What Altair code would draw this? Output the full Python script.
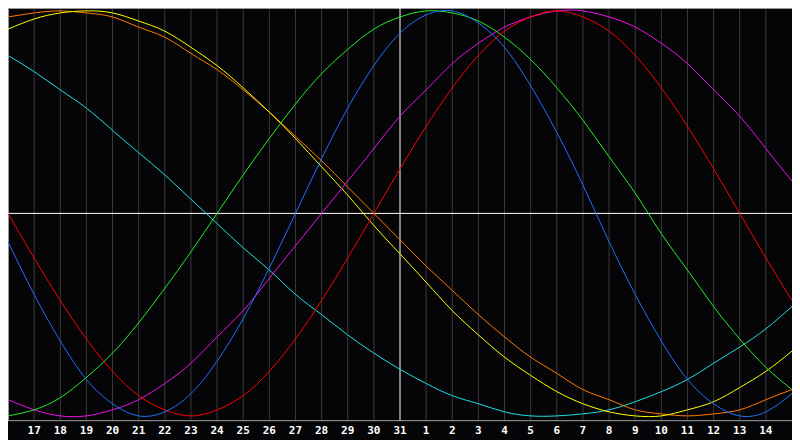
import altair as alt
import pandas as pd

# day index 0..30 (0 = the 16th of the first month, 15 = the 31st = today)
day_index = list(range(31))
label_index = list(range(1, 30))
day_labels = ["17", "18", "19", "20", "21", "22", "23", "24", "25", "26", "27", "28",
              "29", "30", "31", "1", "2", "3", "4", "5", "6", "7", "8", "9", "10",
              "11", "12", "13", "14"]

physical = [-14, -40, -63, -82, -94, -100, -98, -89, -73, -52, -27, 0, 27, 52, 73, 89,
            98, 100, 94, 82, 63, 40, 14, -14, -40, -63, -82, -94, -100, -98, -89]
emotional = [0, -22, -43, -62, -78, -90, -97, -100, -97, -90, -78, -62, -43, -22, 0, 22,
             43, 62, 78, 90, 97, 100, 97, 90, 78, 62, 43, 22, 0, -22, -43]
intellectual = [-100, -97, -91, -81, -69, -54, -37, -19, 0, 19, 37, 54, 69, 81, 91, 97,
                100, 99, 95, 87, 76, 62, 46, 28, 10, -10, -28, -46, -62, -76, -87]
intuitive = [-92, -97, -100, -100, -97, -92, -84, -74, -61, -48, -32, -16, 0, 16, 32, 48,
             61, 74, 84, 92, 97, 100, 100, 97, 92, 84, 74, 61, 48, 32, 16]
aesthetic = [91, 96, 99, 100, 99, 95, 90, 82, 73, 62, 50, 37, 23, 9, -6, -20, -34, -48,
             -60, -71, -80, -88, -94, -98, -100, -100, -97, -93, -86, -78, -68]
awareness = [97, 99, 100, 99, 97, 92, 87, 79, 71, 61, 50, 38, 26, 13, 0, -13, -26, -38,
             -50, -61, -71, -79, -87, -92, -97, -99, -100, -99, -97, -92, -87]
spiritual = [78, 70, 61, 52, 41, 30, 19, 7, -5, -17, -28, -40, -50, -60, -69, -77, -84,
             -90, -94, -98, -100, -100, -99, -97, -93, -88, -82, -74, -66, -57, -46]

series_names = ["Spiritual", "Awareness", "Aesthetic", "Intuitive", "Intellectual",
                "Emotional", "Physical"]
series_colors = ["#22dede", "#ff7a00", "#ffff00", "#ee11ee", "#22ee22", "#ff0000",
                 "#1f6fff"]
series_values = [spiritual, awareness, aesthetic, intuitive, intellectual, emotional,
                 physical]

today_index = 15

rows = []
for name, vals in zip(series_names, series_values):
    for d, v in zip(day_index, vals):
        rows.append({"day": d, "value": v, "series": name})
curves = pd.DataFrame(rows)

W, H = 784, 432
AXIS_Y = 412.7  # pixel of the grey base line

xs = alt.Scale(domain=[0, 30], nice=False, zero=False)
ys = alt.Scale(domain=[-111.9, 101.43], nice=False, zero=False)

grid_df = pd.DataFrame({"day": [d for d in label_index if d != today_index]})
grid = alt.Chart(grid_df).mark_rule(color="#3a3a3a", strokeWidth=1).encode(
    x=alt.X("day:Q", scale=xs, axis=None),
    y=alt.value(0),
    y2=alt.value(AXIS_Y),
)

left_border = alt.Chart().mark_rule(color="#9a9a9a", strokeWidth=1).encode(
    x=alt.value(0.5), y=alt.value(0), y2=alt.value(AXIS_Y))
top_border = alt.Chart().mark_rule(color="#9a9a9a", strokeWidth=1).encode(
    x=alt.value(0), x2=alt.value(W), y=alt.value(0.5))
base_line = alt.Chart().mark_rule(color="#a0a0a0", strokeWidth=1).encode(
    x=alt.value(0), x2=alt.value(W), y=alt.value(AXIS_Y))

zero_line = alt.Chart().mark_rule(color="#ffffff", strokeWidth=1).encode(
    y=alt.datum(0, scale=ys, axis=None), x=alt.value(0), x2=alt.value(W))

today_df = pd.DataFrame({"day": [today_index]})
today_line = alt.Chart(today_df).mark_rule(color="#ffffff", strokeWidth=1).encode(
    x=alt.X("day:Q", scale=xs, axis=None), y=alt.value(0), y2=alt.value(AXIS_Y))

lines = alt.Chart(curves).mark_line(strokeWidth=1, interpolate="natural").encode(
    x=alt.X("day:Q", scale=xs, axis=None),
    y=alt.Y("value:Q", scale=ys, axis=None),
    color=alt.Color("series:N", scale=alt.Scale(domain=series_names, range=series_colors),
                    legend=None),
    order=alt.Order("day:Q"),
)

labels_df = pd.DataFrame({"day": label_index, "label": day_labels})
labels = alt.Chart(labels_df).mark_text(
    color="#ffffff", font="DejaVu Sans Mono", fontWeight="bold", fontSize=11,
    align="center", baseline="middle",
).encode(
    x=alt.X("day:Q", scale=xs, axis=None),
    y=alt.value(423),
    text="label:N",
)

chart = alt.layer(grid, left_border, top_border, base_line, zero_line, today_line,
                  lines, labels).properties(
    width=W, height=H, background="#050508", padding=0,
    autosize=alt.AutoSizeParams(type="none"),
).configure_view(stroke=None)

chart.save("out.html", embed_options={"renderer": "svg", "actions": False})
